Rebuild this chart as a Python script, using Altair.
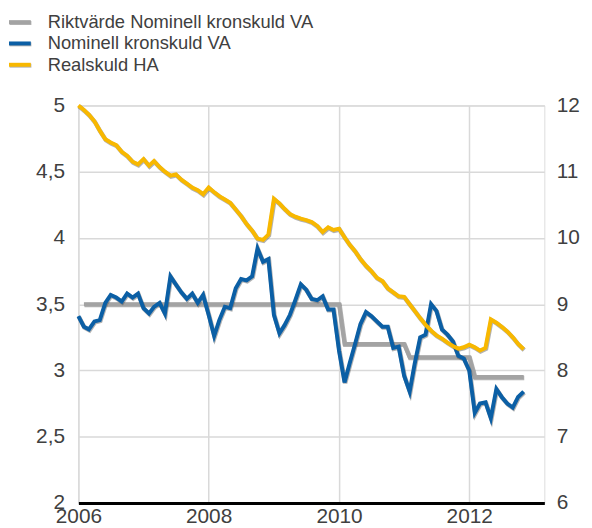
import altair as alt
import pandas as pd

# ---- data (monthly, Jan 2006 - Nov 2012) ----
start_month = "2006-01-01"
n_months = 83

nominell = [3.41, 3.33, 3.31, 3.37, 3.38, 3.51, 3.57, 3.55, 3.52, 3.58, 3.55, 3.58,
            3.47, 3.43, 3.48, 3.51, 3.43, 3.71, 3.65, 3.59, 3.54, 3.58, 3.51, 3.57,
            3.42, 3.26, 3.38, 3.48, 3.47, 3.62, 3.69, 3.68, 3.71, 3.92, 3.82, 3.84,
            3.42, 3.28, 3.34, 3.42, 3.53, 3.65, 3.61, 3.54, 3.53, 3.56, 3.46, 3.46,
            3.15, 2.91, 3.05, 3.20, 3.35, 3.44, 3.41, 3.37, 3.33, 3.33, 3.17, 3.18,
            2.96, 2.84, 3.05, 3.25, 3.27, 3.50, 3.45, 3.31, 3.27, 3.22, 3.11, 3.09,
            3.00, 2.68, 2.75, 2.76, 2.64, 2.86, 2.80, 2.75, 2.72, 2.80, 2.84]

realskuld = [12.0, 11.93, 11.86, 11.76, 11.62, 11.49, 11.44, 11.40, 11.30, 11.24, 11.15, 11.11,
             11.19, 11.09, 11.16, 11.07, 11.00, 10.94, 10.96, 10.88, 10.82, 10.76, 10.72, 10.66,
             10.76, 10.69, 10.63, 10.58, 10.53, 10.43, 10.33, 10.21, 10.11, 9.99, 9.97, 10.05,
             10.59, 10.52, 10.44, 10.36, 10.32, 10.29, 10.27, 10.24, 10.18, 10.09, 10.16, 10.12,
             10.14, 10.01, 9.90, 9.80, 9.68, 9.58, 9.50, 9.40, 9.35, 9.24, 9.18, 9.12,
             9.11, 9.00, 8.90, 8.79, 8.69, 8.60, 8.53, 8.48, 8.42, 8.37, 8.33, 8.35,
             8.39, 8.35, 8.30, 8.34, 8.77, 8.72, 8.66, 8.59, 8.50, 8.40, 8.32]

# Riktvärde: step levels (starts Feb 2006)
riktvarde_start = "2006-02-01"
riktvarde = ([3.5] * 48) + ([3.2] * 12) + ([3.1] * 12) + ([2.95] * 10)

series_names = ["Riktvärde Nominell kronskuld VA", "Nominell kronskuld VA", "Realskuld HA"]
series_colors = ["#a3a3a3", "#0b5fa5", "#f8b800"]

left_ticks = [2, 2.5, 3, 3.5, 4, 4.5, 5]
right_ticks = [6, 7, 8, 9, 10, 11, 12]
year_ticks = [2006, 2008, 2010, 2012]

# ---- tables ----
months = pd.date_range(start_month, periods=n_months, freq="MS")
df_nom = pd.DataFrame({"date": months, "value": nominell})
df_real = pd.DataFrame({"date": months, "value": realskuld})
df_rikt = pd.DataFrame({"date": pd.date_range(riktvarde_start, periods=len(riktvarde), freq="MS"),
                        "value": riktvarde})

FONT = "Liberation Sans"
TXT = "#404040"

x_enc = alt.X("date:T",
              scale=alt.Scale(domain=[alt.DateTime(year=2006, month=1, date=1),
                                      alt.DateTime(year=2013, month=2, date=25)]),
              axis=alt.Axis(values=[alt.DateTime(year=y, month=1, date=1) for y in year_ticks],
                            format="%Y", labelFlush=False, labelOverlap=False,
                            ticks=False, domainColor="#000000", domainWidth=3,
                            grid=True, gridColor="#d9d9d9", gridWidth=1.5,
                            labelFontSize=21, labelColor=TXT, labelPadding=3, labelFont=FONT),
              title=None)

left_axis = alt.Axis(values=left_ticks, labelExpr="replace(toString(datum.value), '.', ',')",
                     grid=True, gridColor="#d9d9d9", gridWidth=1.5, domain=False, ticks=False,
                     labelFontSize=21, labelColor=TXT, labelPadding=14, labelFont=FONT)
right_axis = alt.Axis(values=right_ticks, orient="right", grid=False, domain=False, ticks=False,
                      labelFontSize=21, labelColor=TXT, labelPadding=12, labelFont=FONT)

y_left = alt.Y("value:Q", scale=alt.Scale(domain=[2, 5]), axis=left_axis, title=None)
y_right = alt.Y("value:Q", scale=alt.Scale(domain=[6, 12]), axis=right_axis, title=None)

SHADOW = dict(strokeWidth=4.5, color="#555555", opacity=0.45, xOffset=0.6, yOffset=0.9)


def series_layers(df, y, color):
    sh = alt.Chart(df).mark_line(**SHADOW).encode(x=x_enc, y=y)
    ln = alt.Chart(df).mark_line(strokeWidth=4, color=color).encode(x=x_enc, y=y)
    return [sh, ln]


left_group = alt.layer(*series_layers(df_rikt, y_left, series_colors[0]),
                       *series_layers(df_nom, y_left, series_colors[1]))
right_group = alt.layer(*series_layers(df_real, y_right, series_colors[2]))

# ---- manual legend (positions in pixels relative to the plot area) ----
legend_layers = []
leg_df = pd.DataFrame({"name": series_names})
for i, (name, col) in enumerate(zip(series_names, series_colors)):
    yy = -84 + 21.5 * i
    d = leg_df.iloc[[i]]
    legend_layers.append(alt.Chart(d).mark_rule(strokeWidth=4, color="#555555", opacity=0.45).encode(
        x=alt.value(-69.4), x2=alt.value(-47.4), y=alt.value(yy + 0.9)))
    legend_layers.append(alt.Chart(d).mark_rule(strokeWidth=4, color=col).encode(
        x=alt.value(-70), x2=alt.value(-48), y=alt.value(yy)))
    legend_layers.append(alt.Chart(d).mark_text(align="left", baseline="middle", fontSize=18.5,
                                                color=TXT, font=FONT).encode(
        x=alt.value(-31), y=alt.value(yy), text="name:N"))

chart = alt.layer(
    left_group, right_group, *legend_layers
).resolve_scale(y="independent").properties(
    width=470, height=401,
    autosize=alt.AutoSizeParams(type="none"),
    padding={"left": 71, "top": 96, "right": 40, "bottom": 25},
).configure_view(stroke=None).configure(font=FONT)

chart.save("out.html", embed_options={"renderer": "svg", "actions": False})
